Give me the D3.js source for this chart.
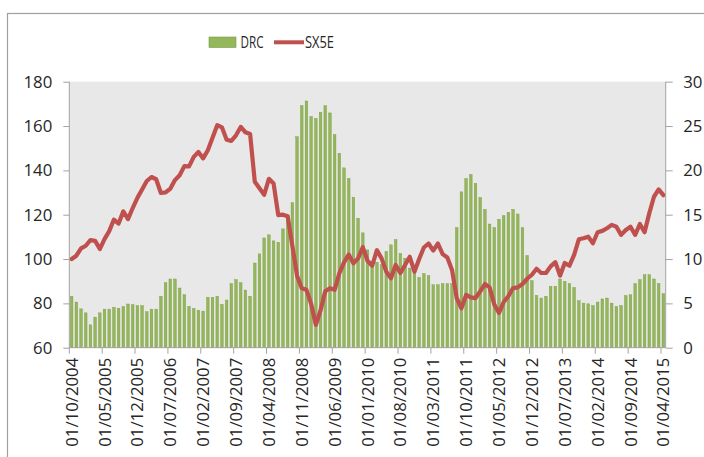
<!DOCTYPE html>
<html><head><meta charset="utf-8">
<script src="https://cdn.jsdelivr.net/npm/d3@7/dist/d3.min.js"></script>
<style>
body{margin:0;background:#fff;}
svg{display:block;}
text{font-family:"Open Sans",sans-serif;fill:#262626;}
</style>
</head><body>
<svg id="c" width="704" height="457"></svg>
<script>
// Monthly categories 01/10/2004 .. 01/04/2015
const months = d3.timeMonth.range(new Date(2004, 9, 1), new Date(2015, 4, 1));

// DRC (bars, right axis 0-30)
const drc = [
  5.8,5.15,4.38,3.93,2.58,3.45,3.93,4.35,4.35,4.55,
  4.45,4.65,4.93,4.85,4.75,4.75,4.05,4.35,4.35,5.8,
  7.33,7.75,7.75,6.73,5.98,4.65,4.43,4.23,4.13,5.68,
  5.68,5.8,4.88,5.38,7.23,7.68,7.33,6.5,5.8,9.55,
  10.58,12.38,12.73,12.05,11.9,13.4,14.88,16.35,23.8,27.3,
  27.83,26.08,25.85,26.55,27.3,26.48,24.03,21.93,20.28,19.08,
  16.98,14.6,12.95,11.03,9.73,9.63,9.35,10.85,11.6,12.2,
  10.65,10.1,8.98,8.43,7.93,8.35,8.13,7.1,7.1,7.23,
  7.23,7.23,13.55,17.58,19.08,19.53,18.53,16.95,15.6,13.95,
  13.55,14.48,14.9,15.28,15.6,15.08,13.55,10.4,7.55,5.9,
  5.6,5.8,6.93,6.93,7.75,7.48,7.23,6.8,5.3,5.03,
  4.95,4.75,5.15,5.5,5.6,5.03,4.65,4.75,5.88,5.98,
  7.23,7.68,8.23,8.23,7.75,7.23,6.1
];

// SX5E (line, left axis 60-180, rebased to 100)
const sx5e = [
  100,101.5,104.8,106,108.5,108.2,104.5,109,112.6,117.8,
  116,121.5,118,123,127.6,131.4,135.2,137,136,129.8,
  130.1,131.7,135.6,137.8,141.9,141.8,146.1,148.3,145.4,149.1,
  154.7,160.4,159.4,153.8,153.3,155.8,159.6,157.2,156.4,134.9,
  131.9,129,136.2,134.1,119.8,120,119.3,106,92.5,86.8,
  86.1,79.8,70.3,76.8,85.5,86.8,86.1,93.6,98.5,102,
  98.1,100.3,105.4,99.2,97,104,100.3,94.3,91.3,97.3,
  93.7,97.3,101,94.3,100,105.2,107,103.8,107,102.2,
  100.7,95.1,82.3,77.8,83.8,82.7,82.4,85.4,88.7,87.2,
  79.5,75.7,80.6,83.2,86.9,87.2,88.7,91.1,92.9,95.6,
  93.7,93.7,96.7,98.6,92.5,98.2,97,101.9,108.9,109.4,
  110.1,107.1,112.1,112.7,113.9,115.4,114.6,110.9,113.1,114.6,
  110.9,115.8,112.1,120.6,128.1,131.4,128.8
];

const xTickLabels = ["01/10/2004","01/05/2005","01/12/2005","01/07/2006","01/02/2007",
  "01/09/2007","01/04/2008","01/11/2008","01/06/2009","01/01/2010","01/08/2010",
  "01/03/2011","01/10/2011","01/05/2012","01/12/2012","01/07/2013","01/02/2014",
  "01/09/2014","01/04/2015"];
const leftTicks = [60,80,100,120,140,160,180];
const rightTicks = [0,5,10,15,20,25,30];
const seriesNames = ["DRC","SX5E"];

const svg = d3.select("#c");
const L = 69.3, R = 665.7, T = 81.7, B = 347.7;
const axisColor = "#a3a3a3";
const green = "#93b75a", greenEdge = "#7b9c40", red = "#c0504d";

// outer chart frame (extends beyond the picture)
svg.append("rect").attr("x", 7.5).attr("y", 13.5).attr("width", 800).attr("height", 600)
  .attr("fill", "#fff").attr("stroke", "#a0a0a0").attr("stroke-width", 1.2);

const x = d3.scaleBand().domain(d3.range(months.length)).range([L, R])
  .paddingInner(0.44).paddingOuter(0.22);
const yL = d3.scaleLinear().domain([60, 180]).range([B, T]);
const yR = d3.scaleLinear().domain([0, 30]).range([B, T]);
const off = (x.step() - x.bandwidth()) / 2;

// plot background
svg.append("rect").attr("x", L).attr("y", T).attr("width", R - L).attr("height", B - T)
  .attr("fill", "#e8e8e8");

// bars
svg.append("g").selectAll("rect").data(drc).join("rect")
  .attr("x", (d, i) => x(i))
  .attr("width", x.bandwidth())
  .attr("y", d => yR(d))
  .attr("height", d => yR(0) - yR(d))
  .attr("fill", green).attr("stroke", greenEdge).attr("stroke-width", 0.4);

// line
const line = d3.line().x((d, i) => x(i) + x.bandwidth() / 2).y(d => yL(d));
svg.append("path").datum(sx5e).attr("d", line)
  .attr("fill", "none").attr("stroke", red).attr("stroke-width", 4.2)
  .attr("stroke-linejoin", "round").attr("stroke-linecap", "round");

// left axis
const gl = svg.append("g").attr("transform", `translate(${L},0)`)
  .call(d3.axisLeft(yL).tickValues(leftTicks).tickSize(6).tickPadding(11).tickFormat(d3.format("d")));
// right axis
const gr = svg.append("g").attr("transform", `translate(${R},0)`)
  .call(d3.axisRight(yR).tickValues(rightTicks).tickSize(7).tickPadding(10.5).tickFormat(d3.format("d")));
[gl, gr].forEach(g => {
  g.selectAll(".tick line").attr("stroke", axisColor);
  g.selectAll("text").attr("font-size", 16.8).attr("font-family", '"Open Sans",sans-serif').attr("fill", "#262626");
});
gl.select(".domain").remove();
gr.select(".domain").remove();
svg.append("line").attr("x1", L).attr("x2", L).attr("y1", T).attr("y2", B).attr("stroke", axisColor);
svg.append("line").attr("x1", R).attr("x2", R).attr("y1", T).attr("y2", B).attr("stroke", axisColor);

// bottom axis
svg.append("line").attr("x1", L).attr("x2", R).attr("y1", B).attr("y2", B).attr("stroke", axisColor);
const tickIdx = xTickLabels.map((d, k) => k * 7);
const gx = svg.append("g");
tickIdx.forEach((idx, k) => {
  const tx = x(idx) - off;
  gx.append("line").attr("x1", tx).attr("x2", tx).attr("y1", B).attr("y2", B + 6).attr("stroke", axisColor);
  gx.append("text").attr("transform", `translate(${tx},${B + 10}) rotate(-90)`)
    .attr("text-anchor", "end").attr("dy", "0.5em").attr("font-size", 16.8)
    .text(xTickLabels[k]);
});

// legend
const lg = svg.append("g");
lg.append("rect").attr("x", 209).attr("y", 37).attr("width", 27).attr("height", 10.5)
  .attr("fill", green).attr("stroke", greenEdge).attr("stroke-width", 0.6);
lg.append("text").attr("x", 240.5).attr("y", 48).attr("font-size", 17)
  .attr("textLength", 23).attr("lengthAdjust", "spacingAndGlyphs").text(seriesNames[0]);
lg.append("line").attr("x1", 274).attr("x2", 304).attr("y1", 42.3).attr("y2", 42.3)
  .attr("stroke", red).attr("stroke-width", 4);
lg.append("text").attr("x", 305).attr("y", 48).attr("font-size", 17)
  .attr("textLength", 29).attr("lengthAdjust", "spacingAndGlyphs").text(seriesNames[1]);
</script>
</body></html>
